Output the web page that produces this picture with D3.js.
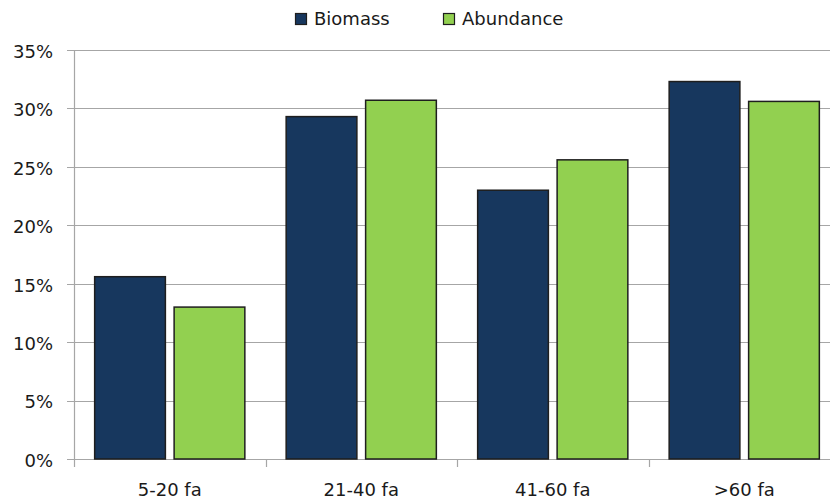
<!DOCTYPE html>
<html><head><meta charset="utf-8">
<script src="https://cdn.jsdelivr.net/npm/d3@7"></script>
<style>body{margin:0;background:#fff}svg{display:block}text{font-family:"DejaVu Sans",Verdana,sans-serif;fill:#1a1a1a}</style>
</head><body><svg id="c" width="830" height="502"></svg>
<script>
const categories = ["5-20 fa","21-40 fa","41-60 fa",">60 fa"];
const seriesNames = ["Biomass","Abundance"];
const biomass = [15.6, 29.3, 23.0, 32.3];
const abundance = [13.0, 30.7, 25.6, 30.6];
const yTicks = [0,5,10,15,20,25,30,35];
const colors = ["#17375E","#92D050"];

(function(){
const svg = d3.select("#c");
const pL = 74, pR = 840, pT = 50, pB = 459;
const x = d3.scaleBand().domain(categories).range([pL, pR]).paddingInner(0).paddingOuter(0);
const x1 = d3.scaleBand().domain(seriesNames).range([0, x.bandwidth()]).paddingInner(0.11).paddingOuter(0.26);
const y = d3.scaleLinear().domain([0,35]).range([pB, pT]);

svg.append("g").selectAll("line").data(yTicks).join("line")
  .attr("x1", pL-7).attr("x2", 830).attr("y1", d=>Math.round(y(d))+0.5).attr("y2", d=>Math.round(y(d))+0.5)
  .attr("stroke", "#a6a6a6").attr("stroke-width", 1.2);
svg.append("line").attr("x1", pL+0.5).attr("x2", pL+0.5).attr("y1", pT).attr("y2", pB+8)
  .attr("stroke", "#a6a6a6").attr("stroke-width", 1.2);
const bounds = categories.map(c=>x(c)).concat([x(categories[3])+x.bandwidth()]);
svg.append("g").selectAll("line").data(bounds.slice(1)).join("line")
  .attr("x1", d=>Math.round(d)+0.5).attr("x2", d=>Math.round(d)+0.5).attr("y1", pB).attr("y2", pB+8)
  .attr("stroke", "#a6a6a6").attr("stroke-width", 1.2);

svg.append("g").selectAll("text").data(yTicks).join("text")
  .attr("x", 53).attr("y", d=>y(d)+1.5).attr("dy","0.35em").attr("text-anchor","end")
  .style("font-size","18px").text(d=>d+"%");

const data = categories.map((c,i)=>({c, vals:[biomass[i], abundance[i]]}));
const g = svg.append("g").selectAll("g").data(data).join("g").attr("transform", d=>`translate(${x(d.c)},0)`);
g.selectAll("rect").data(d=>d.vals.map((v,j)=>({v, s:seriesNames[j], j}))).join("rect")
  .attr("x", d=>x1(d.s)).attr("width", x1.bandwidth())
  .attr("y", d=>y(d.v)).attr("height", d=>pB - y(d.v))
  .attr("fill", d=>colors[d.j]).attr("stroke", "#1e1e1e").attr("stroke-width", 1.5);

svg.append("g").selectAll("text").data(categories).join("text")
  .attr("x", d=>x(d)+x.bandwidth()/2).attr("y", 490).attr("dy","0.35em").attr("text-anchor","middle")
  .style("font-size","18px").text(d=>d);

const legX = [295, 443];
const lg = svg.append("g").selectAll("g").data(seriesNames).join("g").attr("transform",(d,i)=>`translate(${legX[i]},0)`);
lg.append("rect").attr("x",0.5).attr("y",13.5).attr("width",11).attr("height",11)
  .attr("fill",(d,i)=>colors[i]).attr("stroke","#1e1e1e").attr("stroke-width",1.2);
lg.append("text").attr("x",19).attr("y",19).attr("dy","0.35em").style("font-size","18px").text(d=>d);
})();
</script></body></html>
